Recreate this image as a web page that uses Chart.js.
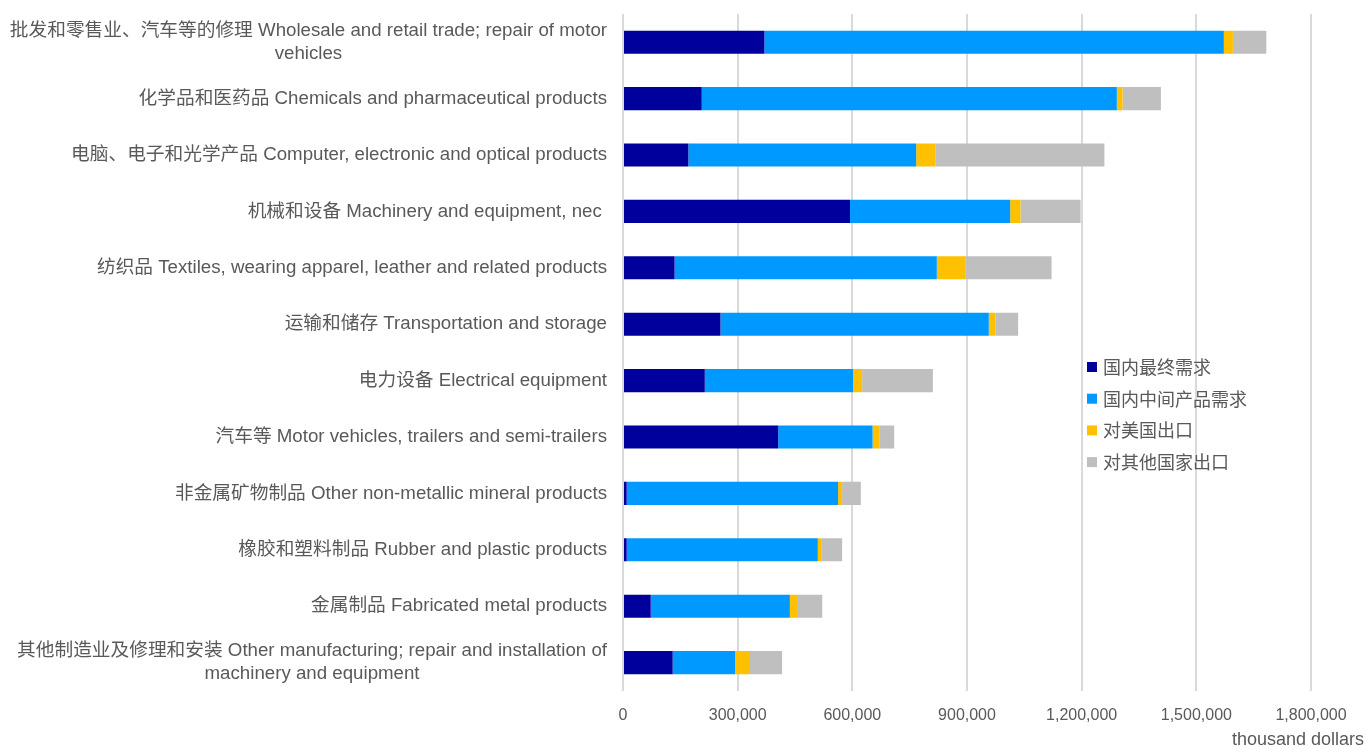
<!DOCTYPE html>
<html lang="zh">
<head>
    <meta charset="UTF-8">
    <title>Industry demand breakdown</title>
    <script src="https://cdn.jsdelivr.net/npm/chart.js"></script>
    <style>
        body {
            margin: 0;
            background: #fff;
        }
        #chartCanvas {
            display: block;
        }
    </style>
</head>
<body>
    <canvas id="chartCanvas" width="1366" height="749"></canvas>

    <script>
        // categories, top to bottom (multi-line ones wrap like the original)
        const categories = [
            ['批发和零售业、汽车等的修理 Wholesale and retail trade; repair of motor', 'vehicles'],
            ['化学品和医药品 Chemicals and pharmaceutical products'],
            ['电脑、电子和光学产品 Computer, electronic and optical products'],
            ['机械和设备 Machinery and equipment, nec '],
            ['纺织品 Textiles, wearing apparel, leather and related products'],
            ['运输和储存 Transportation and storage'],
            ['电力设备 Electrical equipment'],
            ['汽车等 Motor vehicles, trailers and semi-trailers'],
            ['非金属矿物制品 Other non-metallic mineral products'],
            ['橡胶和塑料制品 Rubber and plastic products'],
            ['金属制品 Fabricated metal products'],
            ['其他制造业及修理和安装 Other manufacturing; repair and installation of', 'machinery and equipment']
        ];

        const seriesNames = ['国内最终需求', '国内中间产品需求', '对美国出口', '对其他国家出口'];

        // thousand dollars
        const domesticFinal = [370000, 206000, 171000, 594000, 135000, 255000, 214000, 406000, 9700, 9700, 72600, 130000];
        const domesticIntermediate = [1202000, 1086000, 596000, 419000, 686000, 702000, 388000, 247000, 553000, 500000, 364000, 163000];
        const exportUS = [23600, 15000, 49800, 27000, 74200, 17400, 23600, 17300, 10500, 10500, 21000, 39300];
        const exportOther = [87500, 100300, 442700, 157200, 226100, 59400, 185200, 39300, 49000, 53200, 63700, 83900];

        const xTicks = [0, 300000, 600000, 900000, 1200000, 1500000, 1800000];

        const colors = ['#00009c', '#0099ff', '#ffc000', '#bfbfbf'];
        const textColor = '#595959';
        const labelFont = "'Liberation Sans', 'Noto Sans CJK SC', sans-serif";

        // category labels, legend and unit title are drawn by hand
        const extrasPlugin = {
            id: 'extras',
            afterDraw(chart) {
                const ctx = chart.ctx;
                const yScale = chart.scales.y;
                ctx.save();
                ctx.fillStyle = textColor;
                ctx.font = '18.7px ' + labelFont;
                ctx.textBaseline = 'middle';

                const rightEdge = 607;
                const lineHeight = 23;
                categories.forEach((lines, i) => {
                    const yc = yScale.getPixelForValue(i);
                    const widths = lines.map(l => ctx.measureText(l).width);
                    const blockW = Math.max(...widths);
                    const y0 = yc - (lines.length - 1) * lineHeight / 2;
                    lines.forEach((line, j) => {
                        ctx.textAlign = 'center';
                        ctx.fillText(line, rightEdge - blockW / 2, y0 + j * lineHeight);
                    });
                });

                // legend
                ctx.textAlign = 'left';
                ctx.font = "18px 'Noto Sans CJK SC', sans-serif";
                chart.data.datasets.forEach((ds, i) => {
                    const y = 367 + i * 31.7;
                    ctx.fillStyle = ds.backgroundColor;
                    ctx.fillRect(1087, y - 5, 10, 10);
                    ctx.fillStyle = textColor;
                    ctx.fillText(ds.label, 1103, y);
                });

                // unit
                ctx.textAlign = 'right';
                ctx.font = '18px ' + labelFont;
                ctx.fillText('thousand dollars', 1364, 740);
                ctx.restore();
            }
        };

        const seriesValues = [domesticFinal, domesticIntermediate, exportUS, exportOther];

        new Chart(document.getElementById('chartCanvas'), {
            type: 'bar',
            data: {
                labels: categories.map(c => c.join(' ')),
                datasets: seriesValues.map((vals, i) => ({
                    label: seriesNames[i],
                    data: vals,
                    backgroundColor: colors[i],
                    borderWidth: 0,
                    barPercentage: 0.41,
                    categoryPercentage: 1
                }))
            },
            options: {
                indexAxis: 'y',
                responsive: false,
                animation: false,
                devicePixelRatio: 1,
                layout: {
                    padding: { left: 623, right: 55, top: 14, bottom: 9 }
                },
                plugins: {
                    legend: { display: false },
                    tooltip: { enabled: false }
                },
                scales: {
                    x: {
                        stacked: true,
                        min: 0,
                        max: 1800000,
                        afterBuildTicks: axis => {
                            axis.ticks = xTicks.map(v => ({ value: v }));
                        },
                        grid: {
                            color: '#d9d9d9',
                            lineWidth: 2,
                            drawTicks: false
                        },
                        border: { display: false },
                        ticks: {
                            color: textColor,
                            padding: 15,
                            font: { family: "'Liberation Sans', sans-serif", size: 16 },
                            callback: v => v.toLocaleString('en-US')
                        }
                    },
                    y: {
                        stacked: true,
                        display: false
                    }
                }
            },
            plugins: [extrasPlugin]
        });
    </script>
</body>
</html>
